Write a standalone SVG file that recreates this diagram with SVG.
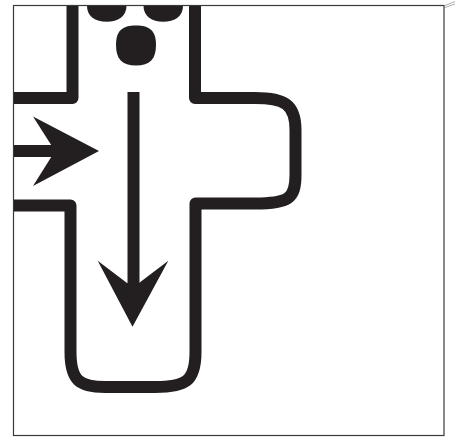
<svg xmlns="http://www.w3.org/2000/svg" width="455" height="438" viewBox="0 0 455 438">
<style>
.wall{fill:none;stroke:#231f20;stroke-width:12;stroke-linejoin:round}
.ink{fill:#231f20}
.shaft{fill:none;stroke:#231f20;stroke-width:12}
.tick{fill:none;stroke:#999;stroke-width:.8}
</style>
<rect width="455" height="438" fill="#fff"/>
<g id="frame"><rect x="13.5" y="5.500" width="430.500" height="430" fill="none" stroke="#3a3a3a" stroke-width="1.200"/>
<path class="tick" d="M445 5.500L455 1.500M445 7.500L455 4"/></g>
<g id="outline">
<path class="wall" d="M14 98H72.500V6M195 6V98H255C284 98 295.500 104 295.500 130V175C295.500 199 288 203.500 255 203.500H195.500V240V352C195.500 381 186 387 155 387H105C80 387 70.500 381 70.500 352V205.500H14"/>
</g>
<g id="dots">
<path class="ink" d="M87 6H126.500C126.500 16 118 21.800 106.800 21.800C95 21.800 87 16 87 6Z"/>
<path class="ink" d="M143.500 6H183C183 16 175 21.800 163 21.800C152 21.800 143.500 16 143.500 6Z"/>
<path class="ink" d="M136 25.500C150 25.500 156 31 156 45C156 59 150 65.500 136 65.500C122 65.500 116 59 116 45C116 31 122 25.500 136 25.500Z"/>
</g>
<g id="connectors">
<path class="shaft" d="M133.500 92V285"/>
<path class="ink" d="M97.700 260.700L127 283H139L168.300 260.700L132.500 326.800Z"/>
<path class="shaft" d="M14 151H60"/>
<path class="ink" d="M33 116.500L99 151L33 186L55 151Z"/>
</g>
</svg>
